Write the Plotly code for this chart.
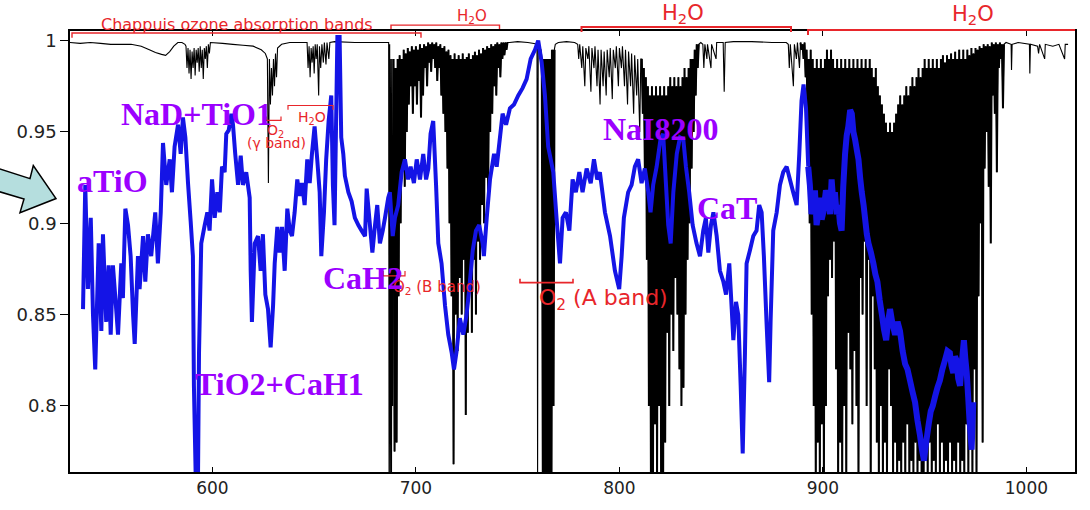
import plotly.graph_objects as go

# ---------------- DATA ----------------
# Telluric transmission (black) - sparse parts: (wavelength nm, transmission)
tell_part1_nm = [529.7, 535, 540, 545, 550, 555, 560, 565, 569, 572, 575, 577, 579, 581, 583, 585, 586.5,
                 587, 587.5, 588, 588.5, 589, 589.5, 590, 590.5, 591, 591.5, 592, 592.5, 593, 593.5, 594,
                 594.5, 595, 595.5, 596, 596.5, 597, 597.5, 598, 598.5, 599, 605, 610, 615, 620, 624, 626,
                 627, 627.5, 628, 628.5, 629, 629.5, 630, 630.5, 631, 631.5, 632, 634, 638, 646.5, 647,
                 647.5, 648, 648.5, 649, 649.5, 650, 650.5, 651, 651.5, 652.2, 652.6, 653.2, 653.8, 654.5,
                 655, 655.8, 656.3, 657.2, 657.7, 660, 670, 680, 686.6, 686.8, 687.1, 687.4, 687.7, 688.0,
                 688.3, 688.6]
tell_part1_tr = [0.999, 0.9985, 0.999, 0.9985, 0.998, 0.998, 0.998, 0.997, 0.995, 0.9935, 0.9925, 0.992,
                 0.994, 0.997, 0.999, 0.999, 0.998,
                 0.997, 0.985, 0.996, 0.982, 0.995, 0.979, 0.994, 0.985, 0.996, 0.981, 0.995, 0.988, 0.996,
                 0.983, 0.997, 0.985, 0.995, 0.979, 0.996, 0.99, 0.997, 0.985, 0.998, 0.993, 0.999, 0.9985,
                 0.998, 0.9975, 0.997, 0.995, 0.993, 0.99, 0.922, 0.99, 0.965, 0.985, 0.97, 0.99, 0.975,
                 0.993, 0.98, 0.996, 0.998, 0.999, 0.999, 0.985, 0.997, 0.98, 0.996, 0.988, 0.997, 0.982,
                 0.998, 0.99, 0.998, 0.97, 0.997, 0.985, 0.998, 0.988, 0.999, 0.987, 0.999, 0.99, 0.999,
                 0.9995, 0.999, 0.999, 0.999, 0.76, 0.998, 0.76, 0.99, 0.76, 0.99, 0.80]

# Dense band B + H2O 690-740 nm: per-nm (upper, lower) line pairs starting at 689 nm
bband_start = 689.0
bband_hi = [0.99, 0.985, 0.99, 0.992, 0.99, 0.995, 0.993, 0.996, 0.994, 0.997, 0.995, 0.997, 0.995, 0.998,
            0.996, 0.998, 0.997, 0.999, 0.998, 0.999, 0.998, 0.999, 0.997, 0.998, 0.996, 0.997, 0.994,
            0.995, 0.992, 0.99, 0.993, 0.99, 0.992, 0.99, 0.993, 0.99, 0.991, 0.993, 0.99, 0.992, 0.994,
            0.992, 0.995, 0.993, 0.996, 0.995, 0.997, 0.996, 0.998, 0.997, 0.998, 0.999, 0.998, 0.999,
            0.999, 0.999]
bband_lo = [0.775, 0.78, 0.86, 0.90, 0.93, 0.92, 0.95, 0.965, 0.975, 0.96, 0.975, 0.965, 0.978, 0.958,
            0.97, 0.985, 0.975, 0.988, 0.983, 0.99, 0.985, 0.978, 0.985, 0.97, 0.96, 0.95, 0.93, 0.90,
            0.86, 0.768, 0.85, 0.83, 0.87, 0.85, 0.88, 0.795, 0.84, 0.87, 0.84, 0.88, 0.85, 0.89, 0.88,
            0.91, 0.90, 0.925, 0.915, 0.95, 0.96, 0.975, 0.97, 0.985, 0.98, 0.99, 0.992, 0.995]

tell_part2_nm = [746, 750, 755, 758, 759.5, 759.8, 760.1, 761.5]
tell_part2_tr = [0.999, 0.9995, 0.999, 0.9985, 0.998, 0.76, 0.998, 0.995]

# O2 A band (solid), per-nm (upper, lower) starting at 762 nm
aband_start = 762.0
aband_hi = [0.99, 0.99, 0.99, 0.99, 0.99, 0.995]
aband_lo = [0.76, 0.76, 0.76, 0.76, 0.76, 0.80]

tell_part2b_nm = [768.5, 770, 774, 778, 779.5, 780, 780.5, 781.5, 782, 783, 783.5, 784.5, 785, 786, 786.5,
                  787.5, 788, 789, 789.5, 790.5, 791, 792, 792.5, 793.5, 794, 795, 795.5, 796.5, 797, 798,
                  798.5, 799.5, 800, 801, 801.5, 802.5, 803, 804, 804.5, 805.5, 806, 807, 807.5, 808.5, 809,
                  810, 810.5]
tell_part2b_tr = [0.998, 0.999, 0.9995, 0.999, 0.998, 0.99, 0.998, 0.985, 0.997, 0.975, 0.996, 0.99, 0.997,
                  0.972, 0.996, 0.985, 0.997, 0.975, 0.995, 0.965, 0.995, 0.975, 0.994, 0.97, 0.995, 0.98,
                  0.996, 0.968, 0.995, 0.985, 0.997, 0.975, 0.996, 0.985, 0.997, 0.975, 0.995, 0.965, 0.994,
                  0.975, 0.993, 0.96, 0.992, 0.97, 0.99, 0.95, 0.99]

# Dense H2O band 811-838 nm
h2o1_start = 811.0
h2o1_hi = [0.99, 0.985, 0.98, 0.975, 0.97, 0.975, 0.97, 0.975, 0.97, 0.975, 0.97, 0.975, 0.97, 0.975,
           0.98, 0.975, 0.98, 0.975, 0.98, 0.975, 0.98, 0.985, 0.98, 0.985, 0.99, 0.99, 0.995, 0.998]
h2o1_lo = [0.96, 0.93, 0.88, 0.80, 0.76, 0.76, 0.79, 0.76, 0.80, 0.76, 0.76, 0.78, 0.84, 0.80, 0.85, 0.83,
           0.87, 0.85, 0.82, 0.80, 0.81, 0.85, 0.88, 0.90, 0.93, 0.95, 0.97, 0.985]

tell_part3_nm = [840, 841, 841.5, 842, 843, 843.3, 845, 845.3, 847.5, 847.8, 851, 851.5, 852, 856, 865, 875,
                 882, 883, 883.5, 884, 885.5, 886, 887, 887.5, 888.5]
tell_part3_tr = [0.999, 0.998, 0.985, 0.998, 0.99, 0.998, 0.985, 0.998, 0.99, 0.999, 0.999, 0.972, 0.999,
                 0.9995, 0.9995, 0.999, 0.999, 0.998, 0.985, 0.998, 0.975, 0.998, 0.99, 0.999, 0.985]

# Dense H2O band 889-988 nm
h2o2_start = 889.0
h2o2_hi = [0.999, 0.998, 0.999, 0.995, 0.99, 0.995, 0.99, 0.985, 0.99, 0.985, 0.99, 0.985, 0.99, 0.995,
           0.99, 0.995, 0.99, 0.985, 0.99, 0.985, 0.99, 0.985, 0.99, 0.985, 0.99, 0.985, 0.99, 0.985, 0.99,
           0.985, 0.99, 0.985, 0.99, 0.985, 0.99, 0.985, 0.98, 0.985, 0.975, 0.97, 0.965, 0.96, 0.955, 0.95,
           0.955, 0.95, 0.955, 0.96, 0.965, 0.97, 0.965, 0.97, 0.975, 0.97, 0.975, 0.98, 0.975, 0.98, 0.985,
           0.98, 0.985, 0.99, 0.985, 0.99, 0.985, 0.99, 0.985, 0.99, 0.985, 0.99, 0.992, 0.988, 0.992, 0.99,
           0.993, 0.99, 0.994, 0.99, 0.995, 0.99, 0.995, 0.99, 0.995, 0.992, 0.996, 0.993, 0.996, 0.995,
           0.997, 0.996, 0.998, 0.997, 0.998, 0.997, 0.999, 0.998, 0.999, 0.998, 0.999, 0.998]
h2o2_lo = [0.995, 0.99, 0.98, 0.95, 0.90, 0.85, 0.80, 0.76, 0.78, 0.76, 0.79, 0.76, 0.80, 0.86, 0.88, 0.87,
           0.89, 0.82, 0.76, 0.78, 0.76, 0.80, 0.76, 0.84, 0.82, 0.79, 0.83, 0.80, 0.76, 0.87, 0.85, 0.89,
           0.80, 0.88, 0.76, 0.86, 0.82, 0.78, 0.76, 0.80, 0.76, 0.78, 0.76, 0.82, 0.80, 0.76, 0.78, 0.76,
           0.77, 0.76, 0.78, 0.76, 0.79, 0.76, 0.77, 0.76, 0.78, 0.76, 0.77, 0.76, 0.76, 0.77, 0.76, 0.78,
           0.76, 0.77, 0.76, 0.79, 0.76, 0.78, 0.76, 0.77, 0.76, 0.78, 0.76, 0.77, 0.76, 0.78, 0.76, 0.77,
           0.76, 0.79, 0.76, 0.80, 0.76, 0.82, 0.76, 0.86, 0.90, 0.78, 0.93, 0.95, 0.92, 0.889, 0.97, 0.96,
           0.928, 0.985, 0.99, 0.963]

tell_part4_nm = [990, 992.5, 992.7, 993, 996, 1001.5, 1001.7, 1002, 1005.5, 1006, 1006.5, 1009, 1009.3,
                 1013, 1016, 1018.8, 1019.1, 1020.5]
tell_part4_tr = [0.999, 0.998, 0.984, 0.998, 0.999, 0.998, 0.982, 0.998, 0.997, 0.993, 0.998, 0.99, 0.998,
                 0.997, 0.998, 0.99, 0.998, 0.998]

# M-dwarf spectrum (blue): wavelength (nm), normalised flux
star_nm = [536.4, 537.5, 538.8, 540.2, 541.3, 542.4, 544.1, 545.4, 546.2, 547.8, 549.0, 550.0, 551.1, 552.3,
           553.6, 555.2, 556.0, 557.2, 558.5, 559.8, 561.0, 561.8, 563.4, 564.2, 565.9, 567.0, 568.3, 569.9,
           571.9, 573.2, 574.6, 575.7, 577.3, 579.0, 580.1, 581.4, 583.1, 584.4, 585.5, 586.7, 588.0, 589.3,
           590.4, 590.9, 591.8, 592.9, 593.4, 594.5, 596.2, 597.5, 598.6, 599.8, 601.1, 602.4, 603.6, 604.7,
           606.0, 606.8, 608.0, 609.3, 610.1, 611.2, 612.6, 613.9, 615.0, 616.6, 618.3, 618.8, 619.4, 620.8,
           622.4, 623.7, 624.8, 626.0, 627.3, 628.6, 629.8, 630.6, 631.9, 633.0, 634.2, 635.5, 636.8, 638.0,
           639.1, 640.4, 641.7, 642.9, 644.0, 645.3, 646.6, 647.8, 648.9, 650.2, 651.5, 652.7, 653.5, 654.8,
           655.9, 657.1, 658.4, 659.2, 660.0, 661.4, 662.5, 663.3, 664.3, 665.1, 666.8, 668.4, 670.0, 671.7,
           673.3, 675.0, 675.8, 677.4, 678.6, 679.9, 681.0, 682.3, 683.7, 684.8, 686.4, 687.2, 688.6, 689.7,
           691.3, 693.0, 694.6, 696.2, 697.4, 699.0, 700.4, 702.0, 703.6, 705.0, 706.1, 707.2, 708.5, 709.9,
           711.0, 712.6, 714.3, 715.9, 717.6, 718.7, 720.0, 721.6, 723.3, 724.9, 726.2, 727.9, 729.5, 731.1,
           732.8, 733.4, 734.8, 736.4, 738.4, 739.7, 741.0, 742.6, 744.3, 746.2, 748.2, 750.3, 752.4, 754.4,
           756.4, 758.5, 760.1, 761.8, 763.4, 765.0, 767.5, 769.1, 770.8, 772.1, 773.7, 775.4, 777.0, 778.6,
           780.3, 781.9, 783.9, 785.9, 787.5, 789.1, 790.4, 792.9, 795.4, 797.8, 799.9, 801.1, 802.2, 804.3,
           806.0, 807.6, 809.2, 810.9, 812.5, 814.2, 815.3, 816.6, 818.3, 820.2, 821.5, 822.9, 824.0, 825.2,
           826.5, 828.2, 829.8, 831.4, 832.7, 834.3, 836.0, 837.9, 839.6, 841.2, 842.5, 843.7, 845.0, 846.2,
           847.8, 849.4, 851.1, 852.4, 854.0, 855.2, 856.0, 857.3, 858.4, 859.6, 860.6, 861.7, 862.5, 864.1,
           865.8, 867.4, 868.7, 869.9, 871.0, 872.3, 873.6, 874.3, 875.6, 877.3, 878.9, 880.5, 882.2, 883.8,
           885.4, 887.1, 888.4, 889.5, 890.5, 891.7, 892.8]
star_flux = [0.853, 0.921, 0.864, 0.903, 0.850, 0.820, 0.889, 0.841, 0.894, 0.846, 0.877, 0.839, 0.877,
             0.859, 0.839, 0.878, 0.859, 0.908, 0.899, 0.882, 0.850, 0.834, 0.882, 0.864, 0.893, 0.868, 0.894,
             0.882, 0.906, 0.878, 0.906, 0.944, 0.921, 0.935, 0.917, 0.942, 0.954, 0.938, 0.958, 0.947, 0.922,
             0.901, 0.882, 0.811, 0.760, 0.760, 0.829, 0.889, 0.899, 0.906, 0.896, 0.924, 0.903, 0.917, 0.906,
             0.931, 0.928, 0.949, 0.951, 0.960, 0.954, 0.938, 0.921, 0.937, 0.921, 0.928, 0.914, 0.874, 0.846,
             0.889, 0.893, 0.874, 0.894, 0.861, 0.853, 0.832, 0.855, 0.878, 0.898, 0.884, 0.898, 0.874, 0.908,
             0.896, 0.893, 0.906, 0.924, 0.915, 0.922, 0.910, 0.935, 0.922, 0.938, 0.953, 0.935, 0.917, 0.882,
             0.906, 0.935, 0.956, 0.970, 0.921, 0.899, 1.002, 1.002, 0.947, 0.938, 0.926, 0.917, 0.912, 0.903,
             0.899, 0.896, 0.893, 0.919, 0.899, 0.884, 0.899, 0.910, 0.889, 0.896, 0.903, 0.914, 0.917, 0.893,
             0.903, 0.910, 0.928, 0.935, 0.924, 0.931, 0.922, 0.935, 0.924, 0.938, 0.924, 0.930, 0.949, 0.956,
             0.921, 0.889, 0.878, 0.855, 0.839, 0.829, 0.820, 0.830, 0.848, 0.839, 0.850, 0.864, 0.885, 0.896,
             0.899, 0.889, 0.882, 0.903, 0.924, 0.938, 0.931, 0.944, 0.960, 0.954, 0.963, 0.965, 0.970, 0.974,
             0.979, 0.990, 0.995, 1.000, 0.988, 0.970, 0.942, 0.928, 0.903, 0.878, 0.903, 0.906, 0.896, 0.924,
             0.917, 0.928, 0.917, 0.930, 0.922, 0.935, 0.924, 0.928, 0.906, 0.893, 0.874, 0.864, 0.882, 0.903,
             0.917, 0.921, 0.931, 0.935, 0.922, 0.930, 0.917, 0.906, 0.921, 0.931, 0.946, 0.949, 0.921, 0.899,
             0.889, 0.917, 0.938, 0.947, 0.946, 0.931, 0.917, 0.899, 0.889, 0.882, 0.896, 0.903, 0.884, 0.899,
             0.906, 0.893, 0.874, 0.868, 0.861, 0.878, 0.853, 0.836, 0.857, 0.850, 0.811, 0.774, 0.829, 0.878,
             0.885, 0.893, 0.896, 0.910, 0.906, 0.882, 0.846, 0.813, 0.846, 0.896, 0.906, 0.921, 0.928, 0.931,
             0.924, 0.917, 0.910, 0.938, 0.967, 0.976, 0.963, 0.931]

# far-red part of the stellar spectrum (noisier)
star_red_nm = [892.8, 893.6, 894.4, 895.3, 896.1, 896.9, 897.8, 898.6, 899.4, 900.2, 901.5, 902.7, 903.5,
               904.3, 905.1, 905.9, 906.8, 907.6, 908.4, 909.2, 910.0, 910.9, 911.7, 912.5, 913.4, 914.2,
               915.0, 915.8, 916.7, 917.5, 918.3, 919.1, 920.0, 920.7, 921.6, 922.4, 923.6, 924.8, 925.8,
               926.8, 927.9, 929.0, 930.0, 931.1, 932.0, 933.0, 934.2, 935.5, 936.7, 937.9, 939.2, 940.4,
               941.6, 942.8, 944.0, 945.3, 946.5, 947.7, 948.7, 949.7, 950.3, 951.0, 952.0, 953.0, 954.0,
               955.1, 956.3, 957.5, 958.7, 960.0, 961.2, 962.4, 963.2, 964.1, 964.9, 965.7, 966.5, 967.4,
               968.3, 969.3, 970.0, 970.7, 971.4, 972.0, 972.6, 973.1, 973.9]
star_red_flux = [0.931, 0.921, 0.905, 0.910, 0.918, 0.899, 0.906, 0.914, 0.902, 0.906, 0.918, 0.914, 0.905,
                 0.924, 0.912, 0.917, 0.905, 0.910, 0.900, 0.896, 0.920, 0.938, 0.948, 0.953, 0.962, 0.960,
                 0.950, 0.946, 0.940, 0.935, 0.925, 0.917, 0.910, 0.903, 0.894, 0.889, 0.884, 0.878, 0.872,
                 0.868, 0.858, 0.850, 0.842, 0.836, 0.846, 0.853, 0.845, 0.839, 0.846, 0.841, 0.830, 0.823,
                 0.820, 0.814, 0.808, 0.802, 0.792, 0.784, 0.776, 0.770, 0.776, 0.782, 0.790, 0.797, 0.800,
                 0.805, 0.810, 0.814, 0.820, 0.825, 0.830, 0.829, 0.822, 0.818, 0.827, 0.825, 0.815, 0.811,
                 0.824, 0.836, 0.826, 0.818, 0.805, 0.793, 0.784, 0.776, 0.802]

x_tick_vals = [600, 700, 800, 900, 1000]
x_tick_text = ["600", "700", "800", "900", "1000"]
y_tick_vals = [0.8, 0.85, 0.9, 0.95, 1.0]
y_tick_text = ["0.8", "0.85", "0.9", "0.95", "1"]

# ---------------- BUILD ----------------
def dense(start, hi, lo):
    xs, ys = [], []
    for i, (h, l) in enumerate(zip(hi, lo)):
        xs += [start + i, start + i + 0.5]
        ys += [h, l]
    xs.append(start + len(hi))
    ys.append(hi[-1])
    return xs, ys

dense_parts = [dense(bband_start, bband_hi, bband_lo), dense(aband_start, aband_hi, aband_lo),
               dense(h2o1_start, h2o1_hi, h2o1_lo), dense(h2o2_start, h2o2_hi, h2o2_lo)]

tx, ty = list(tell_part1_nm), list(tell_part1_tr)
for part in [dense_parts[0], (tell_part2_nm, tell_part2_tr), dense_parts[1],
             (tell_part2b_nm, tell_part2b_tr), dense_parts[2],
             (tell_part3_nm, tell_part3_tr), dense_parts[3], (tell_part4_nm, tell_part4_tr)]:
    tx += list(part[0])
    ty += list(part[1])

fig = go.Figure()
fig.add_trace(go.Scatter(x=tx, y=ty, mode="lines", line=dict(color="black", width=1.1, simplify=False),
                         showlegend=False, hoverinfo="skip"))
for k, (dx, dy) in enumerate(dense_parts):
    fig.add_trace(go.Scatter(x=dx, y=dy, mode="lines",
                             line=dict(color="black", width=2.6 if k == 1 else 2.0, simplify=False),
                             showlegend=False, hoverinfo="skip"))
fig.add_trace(go.Scatter(x=star_nm, y=star_flux, mode="lines",
                         line=dict(color="#1414e6", width=4, simplify=False),
                         showlegend=False, hoverinfo="skip"))
fig.add_trace(go.Scatter(x=star_red_nm, y=star_red_flux, mode="lines",
                         line=dict(color="#1414e6", width=6, simplify=False),
                         showlegend=False, hoverinfo="skip"))

# pixel -> paper helpers (plot area 70..1075 x 31..485)
L, R, T, B = 70, 1075, 31, 485
def px(x):
    return (x - L) / (R - L)
def py(y):
    return (B - y) / (B - T)

RED = "#e8262b"
PURPLE = "#9b00ff"
shapes = []

def bracket(x0, x1, yline, yend, width=1.6, right_tick=True):
    path = f"M {px(x0)},{py(yend)} L {px(x0)},{py(yline)} L {px(x1)},{py(yline)}"
    if right_tick:
        path += f" L {px(x1)},{py(yend)}"
    shapes.append(dict(type="path", xref="paper", yref="paper", path=path,
                       line=dict(color=RED, width=width)))

bracket(72, 421, 33, 38, 1.4)            # Chappuis
bracket(391, 499.5, 25, 29, 1.4)          # H2O left
bracket(581.5, 791, 27, 32, 2.0)          # H2O middle
bracket(808, 1075, 30, 35, 2.0, right_tick=False)  # H2O right
bracket(288, 333, 107.7, 112, 1.2)        # small H2O
bracket(266, 281, 123, 119, 1.2)          # O2 gamma
bracket(383, 405, 283, 278, 1.2)          # O2 B
bracket(520, 573, 290, 286, 1.6)          # O2 A

# arrow
arrow_pts = [(-2, 172.5), (30, 183.0), (33.3, 169.5), (56, 203.5), (20, 218.0), (24, 204.0), (-2, 196)]
apath = "M " + " L ".join(f"{px(a)},{py(b)}" for a, b in arrow_pts) + " Z"
shapes.append(dict(type="path", xref="paper", yref="paper", path=apath,
                   fillcolor="#b5dede", line=dict(color="black", width=1.5)))

annotations = []
def label(text, x, y, size, color, family, xanchor="center"):
    annotations.append(dict(text=text, x=px(x), y=py(y), xref="paper", yref="paper", showarrow=False,
                            xanchor=xanchor, yanchor="middle",
                            font=dict(size=size, color=color, family=family)))

SANS = "DejaVu Sans"
SERIF = "Liberation Serif"
label("Chappuis ozone absorption bands", 237, 24, 16, RED, SANS)
label("H<sub>2</sub>O", 472, 16, 15, RED, SANS)
label("H<sub>2</sub>O", 683, 14, 21, RED, SANS)
label("H<sub>2</sub>O", 973, 15, 21, RED, SANS)
label("H<sub>2</sub>O", 312, 121, 14, RED, SANS)
label("O<sub>2</sub>", 275, 134, 14, RED, SANS)
label("(γ band)", 276, 146, 14, RED, SANS)
label("O<sub>2</sub> (B band)", 437, 295, 15, RED, SANS)
label("O<sub>2</sub> (A band)", 537, 307, 22, RED, SANS, xanchor="left")

label("<b>aTiO</b>", 112, 185, 32, PURPLE, SERIF)
label("<b>NaD+TiO1</b>", 196, 116, 32, PURPLE, SERIF)
label("<b>NaI8200</b>", 661, 132, 32, PURPLE, SERIF)
label("<b>CaT</b>", 727, 213, 32, PURPLE, SERIF)
label("<b>CaH2</b>", 363, 285, 32, PURPLE, SERIF)
label("<b>TiO2+CaH1</b>", 279, 394, 32, PURPLE, SERIF)

fig.update_layout(
    width=1090, height=510,
    margin=dict(l=L, r=1090 - R, t=T, b=510 - B),
    paper_bgcolor="white", plot_bgcolor="white",
    shapes=shapes, annotations=annotations,
    xaxis=dict(range=[530, 1023.9], showgrid=False, zeroline=False, showline=True, linecolor="black",
               linewidth=1.5, mirror="ticks", ticks="inside", ticklen=5, tickcolor="black",
               tickvals=x_tick_vals, ticktext=x_tick_text,
               tickfont=dict(family=SANS, size=17, color="#222")),
    yaxis=dict(range=[0.7638, 1.0053], showgrid=False, zeroline=False, showline=True, linecolor="black",
               linewidth=1.5, mirror=True, ticks="outside", ticklen=8, tickcolor="black",
               tickvals=y_tick_vals, ticktext=y_tick_text,
               tickfont=dict(family=SANS, size=18, color="#222")),
)

fig.write_html("out.html")
